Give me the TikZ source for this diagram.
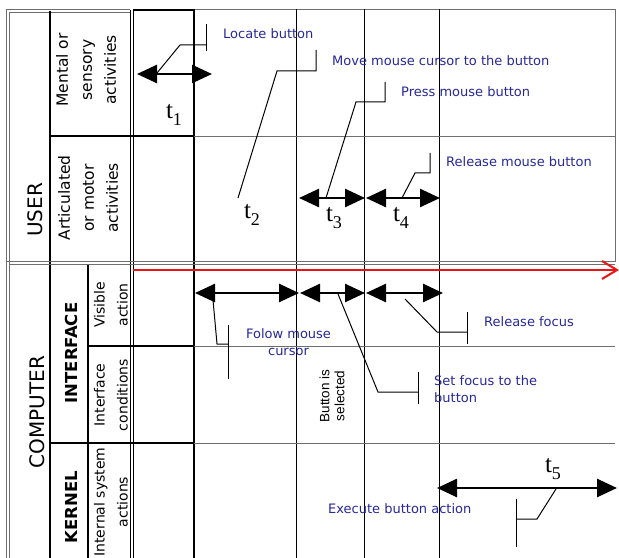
\documentclass[tikz,border=0pt]{standalone}
\usepackage{fontspec}
\setmainfont{DejaVu Sans}
\newfontfamily\tms{Liberation Serif}
\newfontfamily\arl{Liberation Sans}
\usetikzlibrary{arrows.meta}
\definecolor{lblue}{RGB}{40,40,150}
\definecolor{gridgray}{RGB}{110,110,110}
\definecolor{redline}{RGB}{235,20,20}
\newcommand{\tlab}[1]{{\tms\fontsize{25bp}{25bp}\selectfont t\raisebox{-0.3em}{\fontsize{18bp}{18bp}\selectfont #1}}}
\begin{document}
\begin{tikzpicture}[x=1bp,y=-1bp,
  thickrule/.style={line width=2.6bp, black},
  midrule/.style={line width=1.5bp, black},
  thinrule/.style={line width=0.75bp, gridgray},
  gridline/.style={line width=0.8bp, black},
  span/.style={line width=2.6bp, {Triangle[length=20bp,width=18bp]}-{Triangle[length=20bp,width=18bp]}},
  callout/.style={line width=1bp, black},
  note/.style={font=\fontsize{13bp}{17bp}\selectfont, text=lblue, inner sep=0pt, align=left},
  userlab/.style={rotate=90, align=center, font=\fontsize{15.5bp}{24bp}\selectfont, inner sep=0pt},
  complab/.style={rotate=90, align=center, font=\fontsize{14bp}{23bp}\selectfont, inner sep=0pt},
  biglab/.style={rotate=90, font=\fontsize{20bp}{24bp}\selectfont, inner sep=0pt},
  boldlab/.style={rotate=90, font=\bfseries\fontsize{16.5bp}{20bp}\selectfont, inner sep=0pt},
  tl/.style={inner sep=0pt}
]
\useasboundingbox[fill=white] (0,0) rectangle (619,558);

% ---------- table frame ----------
\draw[thinrule] (6.5,9.5) -- (6.5,558);
\draw[thinrule] (9.5,12) -- (9.5,558);
\draw[thinrule] (6.5,9.5) -- (130,9.5);
\draw[thinrule] (9.5,12) -- (130,12);
\draw[thickrule] (133,10) -- (194,10);
\draw[thinrule] (194,9) -- (615,9);
\draw[thinrule] (615,9) -- (615,262);
% vertical rules
\draw[thickrule] (50,11) -- (50,558);
\draw[gridline] (130,10) -- (130,558);
\draw[gridline] (133,10) -- (133,558);
\draw[thickrule] (194,9) -- (194,558);
\draw[thickrule] (88,264) -- (88,558);
\draw[gridline] (296,9) -- (296,558);
\draw[gridline] (364,9) -- (364,558);
\draw[gridline] (439,9) -- (439,558);
% horizontal rules
\draw[thickrule] (50,136) -- (194,136);
\draw[thinrule] (194,136) -- (615,136);
\draw[thinrule] (6.5,261) -- (615,261);
\draw[thinrule] (9.5,264.5) -- (615,264.5);
\draw[midrule] (88,346) -- (194,346);
\draw[thinrule] (194,346) -- (615,346);
\draw[thickrule] (50,443) -- (194,443);
\draw[thinrule] (194,443) -- (615,443);

% ---------- row labels ----------
\node[biglab] (user) at (35,210) {USER};
\node[userlab] (mental) at (86,70) {Mental or\\sensory\\activities};
\node[userlab] (artic) at (88,198) {Articulated\\or motor\\activities};
\node[biglab] (computer) at (37,412) {COMPUTER};
\node[boldlab] (interface) at (71,353) {INTERFACE};
\node[boldlab] (kernel) at (71,507) {KERNEL};
\node[complab] (visible) at (111,305) {Visible\\action};
\node[complab] (intcond) at (111,395) {Interface\\conditions};
\node[complab] (internal) at (111,502) {Internal system\\actions};

% ---------- red time line ----------
\coordinate (redA) at (133,270);
\coordinate (redB) at (617,270);
\coordinate (redH1) at (602,261);
\coordinate (redH2) at (602,279);
\draw[redline, line width=2bp] (redA) -- (redB);
\draw[redline, line width=2bp, line join=miter] (redH1) -- (redB) -- (redH2);

% ---------- time spans ----------
\coordinate (t1a) at (137,74);  \coordinate (t1b) at (212,74);
\coordinate (t3a) at (299,198); \coordinate (t3b) at (365,198);
\coordinate (t4a) at (366,198); \coordinate (t4b) at (440,198);
\coordinate (v1a) at (195,293); \coordinate (v1b) at (299,293);
\coordinate (v2a) at (300,293); \coordinate (v2b) at (365,293);
\coordinate (v3a) at (366,293); \coordinate (v3b) at (443,293);
\coordinate (t5a) at (437,488); \coordinate (t5b) at (617,488);
\draw[span] (t1a) -- (t1b);
\draw[span] (t3a) -- (t3b);
\draw[span] (t4a) -- (t4b);
\draw[span] (v1a) -- (v1b);
\draw[span] (v2a) -- (v2b);
\draw[span] (v3a) -- (v3b);
\draw[span] (t5a) -- (t5b);

% ---------- t labels ----------
\node[tl] (lt1) at (174,115) {\tlab{1}};
\node[tl] (lt2) at (252,215) {\tlab{2}};
\node[tl] (lt3) at (334,218) {\tlab{3}};
\node[tl] (lt4) at (401,218) {\tlab{4}};
\node[tl] (lt5) at (553,469) {\tlab{5}};

% ---------- callouts ----------
% Locate button
\coordinate (L1) at (157,73); \coordinate (L2) at (180,45); \coordinate (L3) at (206,45);
\coordinate (L4) at (206,24); \coordinate (L5) at (206,51);
\draw[callout] (L1) -- (L2) -- (L3);
\draw[callout] (L4) -- (L5);
\node[note, anchor=west] (locate) at (223,34) {Locate button};
% Move mouse cursor
\coordinate (M1) at (238,198); \coordinate (M2) at (277,71); \coordinate (M3) at (316,71);
\coordinate (M4) at (316,50);
\draw[callout] (M1) -- (M2) -- (M3) -- (M4);
\node[note, anchor=west] (move) at (332,61) {Move mouse cursor to the button};
% Press mouse button
\coordinate (P1) at (326,198); \coordinate (P2) at (356,102); \coordinate (P3) at (385,102);
\coordinate (P4) at (385,82);
\draw[callout] (P1) -- (P2) -- (P3) -- (P4);
\node[note, anchor=west] (press) at (401,91.5) {Press mouse button};
% Release mouse button
\coordinate (R1) at (402,198); \coordinate (R2) at (415,173); \coordinate (R3) at (430,173);
\coordinate (R4) at (430,153);
\draw[callout] (R1) -- (R2) -- (R3) -- (R4);
\node[note, anchor=west] (relmouse) at (446,162) {Release mouse button};
% Folow mouse cursor
\coordinate (F1) at (213,300); \coordinate (F2) at (217,344); \coordinate (F3) at (228,344);
\coordinate (F4) at (228,325); \coordinate (F5) at (228,379);
\draw[callout] (F1) -- (F2) -- (F3);
\draw[callout] (F4) -- (F5);
\node[note, align=center] (folow) at (288.5,342) {Folow mouse\\cursor};
% Set focus
\coordinate (S1) at (338,294); \coordinate (S2) at (378,392); \coordinate (S3) at (418,392);
\coordinate (S4) at (418,372); \coordinate (S5) at (418,404);
\draw[callout] (S1) -- (S2) -- (S3);
\draw[callout] (S4) -- (S5);
\node[note, anchor=west] (setfocus) at (434,389) {Set focus to the\\button};
% Release focus
\coordinate (Q1) at (405,299); \coordinate (Q2) at (437,332); \coordinate (Q3) at (467,332);
\coordinate (Q4) at (467,312); \coordinate (Q5) at (467,344);
\draw[callout] (Q1) -- (Q2) -- (Q3);
\draw[callout] (Q4) -- (Q5);
\node[note, anchor=west] (relfocus) at (484,322) {Release focus};
% Execute button action
\coordinate (E1) at (556,489); \coordinate (E2) at (537,519); \coordinate (E3) at (516,519);
\coordinate (E4) at (516,499); \coordinate (E5) at (516,547);
\draw[callout] (E1) -- (E2) -- (E3);
\draw[callout] (E4) -- (E5);
\node[note, anchor=west] (execute) at (328,509) {Execute button action};

% Button is selected
\node[rotate=90, align=center, inner sep=0pt, font=\arl\fontsize{13.5bp}{15bp}\selectfont] (btnsel) at (332,396) {Button is\\selected};
\end{tikzpicture}
\end{document}
